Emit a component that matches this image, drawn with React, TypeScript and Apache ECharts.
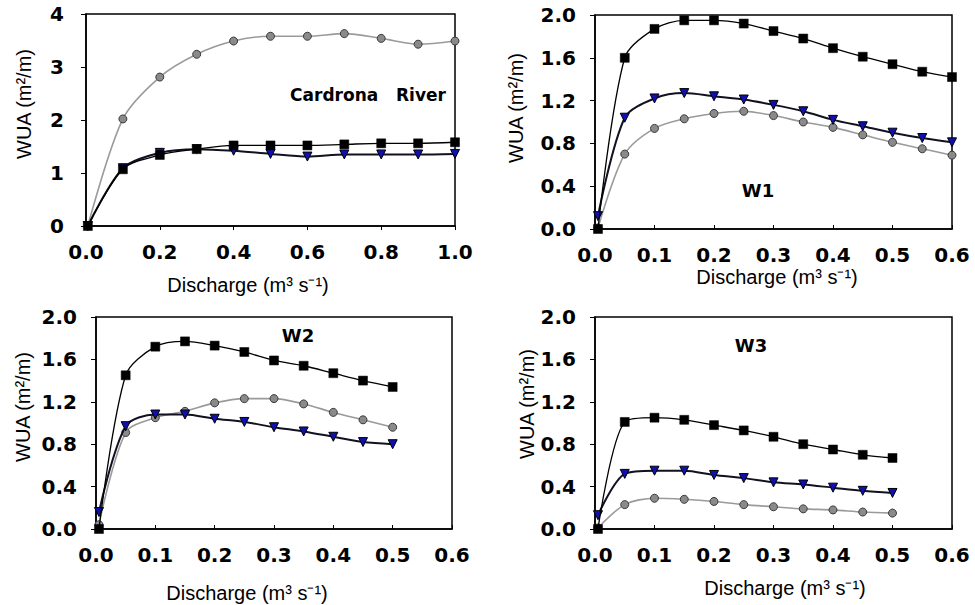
import React, { useEffect, useRef } from "react";
import * as echarts from "echarts";

// ---- Data ----
const cardronaX = [0.005, 0.1, 0.2, 0.3, 0.4, 0.5, 0.6, 0.7, 0.8, 0.9, 1.0];
const cardronaSquares = [0, 1.07, 1.34, 1.45, 1.52, 1.52, 1.52, 1.54, 1.56, 1.56, 1.58];
const cardronaTriangles = [0, 1.09, 1.38, 1.45, 1.42, 1.36, 1.31, 1.35, 1.35, 1.35, 1.36];
const cardronaCircles = [0, 2.02, 2.81, 3.24, 3.49, 3.58, 3.58, 3.63, 3.54, 3.43, 3.49];

const w1X = [0.005, 0.05, 0.1, 0.15, 0.2, 0.25, 0.3, 0.35, 0.4, 0.45, 0.5, 0.55, 0.6];
const w1Squares = [0, 1.6, 1.87, 1.95, 1.95, 1.92, 1.85, 1.78, 1.69, 1.61, 1.54, 1.47, 1.42];
const w1Triangles = [0.12, 1.04, 1.22, 1.27, 1.24, 1.21, 1.16, 1.1, 1.02, 0.96, 0.9, 0.85, 0.81];
const w1Circles = [0.01, 0.7, 0.94, 1.03, 1.08, 1.1, 1.06, 1.0, 0.95, 0.88, 0.81, 0.75, 0.69];

const w2X = [0.005, 0.05, 0.1, 0.15, 0.2, 0.25, 0.3, 0.35, 0.4, 0.45, 0.5];
const w2Squares = [0, 1.45, 1.72, 1.77, 1.73, 1.67, 1.59, 1.54, 1.47, 1.4, 1.34];
const w2Triangles = [0.16, 0.97, 1.08, 1.08, 1.04, 1.01, 0.96, 0.92, 0.87, 0.82, 0.8];
const w2Circles = [0.04, 0.91, 1.05, 1.11, 1.19, 1.23, 1.23, 1.18, 1.1, 1.03, 0.96];

const w3X = [0.005, 0.05, 0.1, 0.15, 0.2, 0.25, 0.3, 0.35, 0.4, 0.45, 0.5];
const w3Squares = [0, 1.01, 1.05, 1.03, 0.98, 0.93, 0.87, 0.8, 0.75, 0.7, 0.67];
const w3Triangles = [0.13, 0.52, 0.55, 0.55, 0.51, 0.48, 0.44, 0.42, 0.39, 0.36, 0.34];
const w3Circles = [0.01, 0.23, 0.29, 0.28, 0.26, 0.23, 0.21, 0.19, 0.18, 0.16, 0.15];

const panelLabels = ["Cardrona   River", "W1", "W2", "W3"];
const xTitle = "Discharge (m\u00b3 s\u207b\u00b9)";
const yTitle = "WUA (m\u00b2/m)";

const zip = (xs: number[], ys: number[]) => xs.map((x, i) => [x, ys[i]]);

export default function App() {
  const ref = useRef<HTMLDivElement>(null);

  useEffect(() => {
    document.body.style.margin = "0";
    if (!ref.current) return;
    const chart = echarts.init(ref.current, undefined, { renderer: "svg" });

    const grids = [
      { left: 86, top: 14, width: 369, height: 212 },
      { left: 595, top: 15, width: 357, height: 214 },
      { left: 96, top: 317, width: 356, height: 212 },
      { left: 595, top: 317, width: 357, height: 212 },
    ];

    const tickFont = { fontFamily: "DejaVu Sans", fontWeight: "bold" as const, fontSize: 20, color: "#000" };

    const xAxes = grids.map((_, i) => ({
      type: "value",
      gridIndex: i,
      min: 0,
      max: i === 0 ? 1 : 0.6,
      interval: i === 0 ? 0.2 : 0.1,
      axisLine: { show: true, lineStyle: { color: "#000", width: 1.5 } },
      axisTick: { show: true, inside: i !== 0, length: 4, lineStyle: { color: "#000", width: 1 } },
      splitLine: { show: false },
      axisLabel: { ...tickFont, margin: 16, formatter: (v: number) => v.toFixed(1) },
    }));

    const yAxes = grids.map((_, i) => ({
      type: "value",
      gridIndex: i,
      min: 0,
      max: i === 0 ? 4 : 2,
      interval: i === 0 ? 1 : 0.4,
      axisLine: { show: true, lineStyle: { color: "#000", width: 1.5 } },
      axisTick: { show: true, inside: false, length: 5, lineStyle: { color: "#000", width: 1 } },
      splitLine: { show: false },
      axisLabel: {
        ...tickFont,
        margin: i === 0 ? 22 : 19,
        formatter: (v: number) => (i === 0 ? String(Math.round(v)) : v.toFixed(1)),
      },
    }));

    const panels = [
      { x: cardronaX, sq: cardronaSquares, tr: cardronaTriangles, ci: cardronaCircles },
      { x: w1X, sq: w1Squares, tr: w1Triangles, ci: w1Circles },
      { x: w2X, sq: w2Squares, tr: w2Triangles, ci: w2Circles },
      { x: w3X, sq: w3Squares, tr: w3Triangles, ci: w3Circles },
    ];

    const series: any[] = [];
    panels.forEach((p, i) => {
      series.push({
        type: "line",
        name: "Circles",
        xAxisIndex: i,
        yAxisIndex: i,
        data: zip(p.x, p.ci),
        smooth: 0.3,
        clip: false,
        symbol: "circle",
        symbolSize: 8,
        lineStyle: { color: "#9a9a9a", width: 1.6 },
        itemStyle: { color: "#8a8a8a", borderColor: "#3a3a3a", borderWidth: 1 },
        z: 2,
      });
      series.push({
        type: "line",
        name: "Triangles",
        xAxisIndex: i,
        yAxisIndex: i,
        data: zip(p.x, p.tr),
        smooth: 0.3,
        clip: false,
        symbol: "triangle",
        symbolRotate: 180,
        symbolSize: 9,
        lineStyle: { color: "#111122", width: 2 },
        itemStyle: { color: "#1010b0", borderColor: "#000", borderWidth: 1 },
        z: 3,
      });
      series.push({
        type: "line",
        name: "Squares",
        xAxisIndex: i,
        yAxisIndex: i,
        data: zip(p.x, p.sq),
        smooth: 0.3,
        clip: false,
        symbol: "rect",
        symbolSize: 9,
        lineStyle: { color: "#000", width: 1.3 },
        itemStyle: { color: "#000", borderColor: "#000", borderWidth: 0.5 },
        z: 4,
      });
    });

    const yTitlePos = [
      [24, 104],
      [516, 108],
      [23, 407],
      [527, 404],
    ];
    const xTitlePos = [
      [248, 285],
      [777, 277],
      [247, 593],
      [785, 588],
    ];
    const labelPos = [
      [368, 95],
      [758, 190],
      [298, 335],
      [751, 345],
    ];

    const graphic: any[] = [];
    for (let i = 0; i < 4; i++) {
      graphic.push({
        type: "text",
        x: yTitlePos[i][0],
        y: yTitlePos[i][1],
        rotation: Math.PI / 2,
        style: {
          text: yTitle,
          fontFamily: "Liberation Sans",
          fontSize: 20,
          fill: "#000",
          align: "center",
          verticalAlign: "middle",
        },
      });
      graphic.push({
        type: "text",
        x: xTitlePos[i][0],
        y: xTitlePos[i][1],
        style: {
          text: xTitle,
          fontFamily: "Liberation Sans",
          fontSize: 20,
          fill: "#000",
          align: "center",
          verticalAlign: "middle",
        },
      });
      graphic.push({
        type: "text",
        x: labelPos[i][0],
        y: labelPos[i][1],
        style: {
          text: panelLabels[i],
          fontFamily: "DejaVu Sans",
          fontWeight: "bold",
          fontSize: i === 0 ? 17 : 18,
          fill: "#000",
          align: "center",
          verticalAlign: "middle",
        },
      });
    }

    chart.setOption({
      animation: false,
      backgroundColor: "#fff",
      grid: grids.map((g) => ({
        ...g,
        show: true,
        borderColor: "#000",
        borderWidth: 1.5,
        backgroundColor: "transparent",
        containLabel: false,
      })),
      xAxis: xAxes,
      yAxis: yAxes,
      series,
      graphic,
    });

    return () => chart.dispose();
  }, []);

  return <div ref={ref} style={{ width: 975, height: 605 }} />;
}
